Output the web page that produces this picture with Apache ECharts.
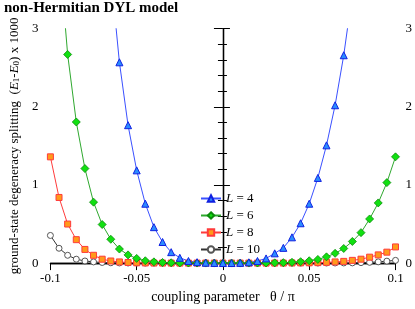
<!DOCTYPE html>
<html>
<head>
<meta charset="utf-8">
<script src="https://cdn.jsdelivr.net/npm/echarts@6/dist/echarts.min.js"></script>
<style>html,body{margin:0;padding:0;background:#fff}#c{width:415px;height:309px}</style>
</head>
<body>
<div id="c"></div>
<script>
var theta = [-0.1, -0.095, -0.09, -0.085, -0.08, -0.075, -0.07, -0.065, -0.06, -0.055,
  -0.05, -0.045, -0.04, -0.035, -0.03, -0.025, -0.02, -0.015, -0.01, -0.005,
  0, 0.005, 0.01, 0.015, 0.02, 0.025, 0.03, 0.035, 0.04, 0.045,
  0.05, 0.055, 0.06, 0.065, 0.07, 0.075, 0.08, 0.085, 0.09, 0.095, 0.1];

var seriesNames = ['L = 4', 'L = 6', 'L = 8', 'L = 10'];

var splitL4 = [null, null, null, null, null, null, null, 3.7, 2.57, 1.765,
  1.187, 0.76, 0.46, 0.27, 0.14, 0.068, 0.027, 0.012, 0.005, 0.002,
  0.001, 0.001, 0.003, 0.01, 0.027, 0.06, 0.125, 0.195, 0.33, 0.51,
  0.76, 1.09, 1.507, 2.02, 2.66, 3.45, null, null, null, null, null];

var splitL6 = [null, 4.0, 2.67, 1.806, 1.21, 0.78, 0.494, 0.305, 0.18, 0.105,
  0.06, 0.03, 0.016, 0.008, 0.004, 0.002, 0.001, 0.0005, 0.0003, 0.0003,
  0.0003, 0.0003, 0.0003, 0.0005, 0.001, 0.002, 0.003, 0.006, 0.01, 0.018,
  0.03, 0.047, 0.08, 0.125, 0.187, 0.277, 0.39, 0.565, 0.77, 1.03, 1.36];

var splitL8 = [1.36, 0.84, 0.50, 0.30, 0.175, 0.10, 0.05, 0.027, 0.015, 0.008,
  0.004, 0.002, 0.001, 0.0005, 0.0003, 0.0002, 0.0002, 0.0002, 0.0002, 0.0002,
  0.0002, 0.0002, 0.0002, 0.0002, 0.0002, 0.0002, 0.0003, 0.0005, 0.002, 0.003,
  0.004, 0.006, 0.01, 0.015, 0.022, 0.035, 0.05, 0.076, 0.105, 0.14, 0.207];

var splitL10 = [0.354, 0.19, 0.10, 0.05, 0.027, 0.015, 0.008, 0.004, 0.002, 0.001,
  0.0005, 0.0003, 0.0002, 0.0001, 0.0001, 0.0001, 0.0001, 0.0001, 0.0001, 0.0001,
  0.0001, 0.0001, 0.0001, 0.0001, 0.0001, 0.0001, 0.0001, 0.0001, 0.0002, 0.0003,
  0.0005, 0.0008, 0.001, 0.0015, 0.002, 0.003, 0.006, 0.01, 0.016, 0.025, 0.035];

var xTicks = [-0.1, -0.05, 0, 0.05, 0.1];
var yTicks = [0, 1, 2, 3];

function pairs(vals) {
  return theta.map(function (t, i) { return [t, vals[i]]; });
}

var FONT = 'Liberation Serif';
var chart = echarts.init(document.getElementById('c'), null, {renderer: 'canvas'});

var yName = '{n|ground-state degeneracy splitting  (}{i|E}{s|1}{n|-}{i|E}{s|0}{n|) x 1000}';

function mkSeries(name, vals, sym, size, lineColor, fill, border, bw) {
  return {
    name: name, type: 'line', data: pairs(vals), symbol: sym, symbolSize: size,
    showAllSymbol: true, connectNulls: false, clip: true,
    lineStyle: {color: lineColor, width: 1},
    itemStyle: {color: fill, borderColor: border, borderWidth: bw},
    emphasis: {disabled: true}, animation: false
  };
}

var option = {
  animation: false,
  title: {
    text: 'non-Hermitian DYL model', left: -1, top: -4,
    textStyle: {fontFamily: FONT, fontWeight: 'bold', fontSize: 15, color: '#000'}
  },
  legend: {
    data: seriesNames, orient: 'vertical', left: 195, top: 187,
    itemWidth: 20, itemHeight: 8, itemGap: 4,
    formatter: function (n) { return '{i|L}' + n.slice(1); },
    textStyle: {fontFamily: FONT, fontSize: 13, color: '#000',
      rich: {i: {fontStyle: 'italic', fontFamily: FONT, fontSize: 13}}}
  },
  grid: {left: 49, right: 17.5, top: 28.7, bottom: 36.5},
  xAxis: [{
    type: 'value', min: xTicks[0], max: xTicks[xTicks.length - 1], interval: 0.05,
    position: 'bottom',
    axisLine: {lineStyle: {color: '#000', width: 1.3}},
    axisTick: {show: true, length: 7, inside: false, lineStyle: {color: '#000'}},
    minorTick: {show: false},
    axisLabel: {fontFamily: FONT, fontSize: 13, color: '#000', margin: 9,
      formatter: function (v) { return String(Math.round(v * 100) / 100); }},
    splitLine: {show: false},
    name: 'coupling parameter   θ / π', nameLocation: 'middle', nameGap: 23,
    nameTextStyle: {fontFamily: FONT, fontSize: 14, color: '#000'}
  }, {
    type: 'value', min: -0.1, max: 0.1, interval: 0.05, position: 'top',
    axisLine: {lineStyle: {color: '#000', width: 1.3}},
    axisTick: {show: false}, axisLabel: {show: false}, splitLine: {show: false}
  }],
  yAxis: [{
    type: 'value', min: yTicks[0], max: yTicks[yTicks.length - 1], interval: 1, position: 'left',
    axisLine: {show: true, lineStyle: {color: '#000', width: 1.3}},
    axisTick: {show: true, length: 9, lineStyle: {color: '#000'}},
    minorTick: {show: true, splitNumber: 5, length: 5, lineStyle: {color: '#000'}},
    axisLabel: {fontFamily: FONT, fontSize: 13, color: '#000', margin: 12},
    splitLine: {show: false},
    name: yName, nameLocation: 'middle', nameGap: 19, nameRotate: 90,
    nameTextStyle: {fontFamily: FONT, fontSize: 13, color: '#000',
      rich: {
        n: {fontFamily: FONT, fontSize: 13, color: '#000'},
        i: {fontFamily: FONT, fontSize: 13, fontStyle: 'italic', color: '#000'},
        s: {fontFamily: FONT, fontSize: 9, color: '#000', verticalAlign: 'bottom'}
      }}
  }, {
    type: 'value', min: 0, max: 3, interval: 1, position: 'right',
    axisLine: {show: true, lineStyle: {color: '#000', width: 1.3}},
    axisTick: {show: true, length: 7, lineStyle: {color: '#000'}},
    minorTick: {show: true, splitNumber: 5, length: 4, lineStyle: {color: '#000'}},
    axisLabel: {fontFamily: FONT, fontSize: 13, color: '#000', margin: 10},
    splitLine: {show: false}
  }],
  series: [
    mkSeries(seriesNames[3], splitL10, 'circle', 6, '#333333', '#ffffff', '#555555', 1),
    mkSeries(seriesNames[2], splitL8, 'rect', 6, '#ff3b3b', '#ff9a1a', '#ff3b3b', 1),
    mkSeries(seriesNames[1], splitL6, 'diamond', 8, '#2fa82f', '#11e011', '#0a8a0a', 0.8),
    mkSeries(seriesNames[0], splitL4, 'triangle', 7, '#3a50ff', '#2a8cff', '#1020e0', 1)
  ]
};
chart.setOption(option);
</script>
</body>
</html>
